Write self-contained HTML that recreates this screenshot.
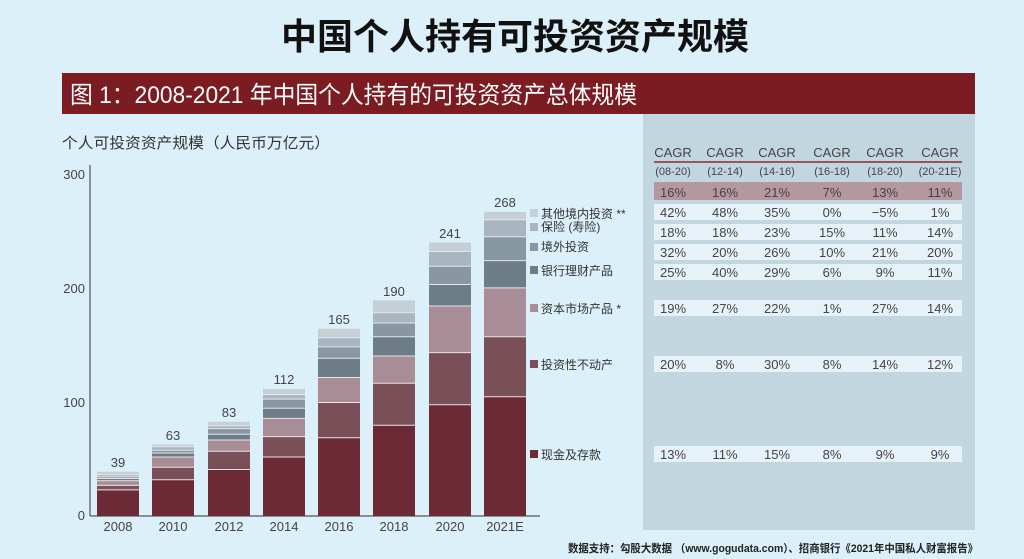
<!DOCTYPE html>
<html><head><meta charset="utf-8"><style>
html,body{margin:0;padding:0;background:#dcf0fa;}
svg{display:block;font-family:"Liberation Sans","Noto Sans CJK SC",sans-serif;}
</style></head><body>
<svg width="1024" height="559" viewBox="0 0 1024 559" xmlns="http://www.w3.org/2000/svg">
<rect width="1024" height="559" fill="#dcf0fa"/>
<text x="515" y="49" text-anchor="middle" font-size="36" font-weight="bold" fill="#111">中国个人持有可投资资产规模</text>
<rect x="62" y="73" width="913" height="41" fill="#7a1c22"/>
<text x="70" y="103" font-size="24" fill="#fff" textLength="567" lengthAdjust="spacingAndGlyphs">图 1：2008-2021 年中国个人持有的可投资资产总体规模</text>
<rect x="643" y="114" width="332" height="416" fill="#c2d6e0"/>
<text x="62" y="148" font-size="15" fill="#333" textLength="268" lengthAdjust="spacingAndGlyphs">个人可投资资产规模（人民币万亿元）</text>
<g font-size="13" fill="#444" text-anchor="end">
<text x="85" y="179">300</text><text x="85" y="293">200</text><text x="85" y="407">100</text><text x="85" y="520">0</text>
</g>
<line x1="90" y1="165" x2="90" y2="516" stroke="#555" stroke-width="1.2"/>
<line x1="90" y1="516" x2="540" y2="516" stroke="#555" stroke-width="1.2"/>
<g id="bars" stroke="none">
<rect x="97" y="471.7" width="42" height="44.3" fill="#c5d0d6"/><rect x="97" y="474.6" width="42" height="41.4" fill="#a8b6bf"/><rect x="97" y="476.8" width="42" height="39.2" fill="#8898a3"/><rect x="97" y="478.5" width="42" height="37.5" fill="#6c7d88"/><rect x="97" y="480.8" width="42" height="35.2" fill="#a88c96"/><rect x="97" y="485.4" width="42" height="30.6" fill="#7a5058"/><rect x="97" y="489.9" width="42" height="26.1" fill="#6b2a36"/>
<rect x="152" y="444.5" width="42" height="71.5" fill="#c5d0d6"/><rect x="152" y="446.8" width="42" height="69.2" fill="#a8b6bf"/><rect x="152" y="450.2" width="42" height="65.8" fill="#8898a3"/><rect x="152" y="453" width="42" height="63" fill="#6c7d88"/><rect x="152" y="457" width="42" height="59" fill="#a88c96"/><rect x="152" y="467.2" width="42" height="48.8" fill="#7a5058"/><rect x="152" y="479.7" width="42" height="36.3" fill="#6b2a36"/>
<rect x="208" y="421.8" width="42" height="94.2" fill="#c5d0d6"/><rect x="208" y="425.8" width="42" height="90.2" fill="#a8b6bf"/><rect x="208" y="428.6" width="42" height="87.4" fill="#8898a3"/><rect x="208" y="434.3" width="42" height="81.7" fill="#6c7d88"/><rect x="208" y="440" width="42" height="76" fill="#a88c96"/><rect x="208" y="451.3" width="42" height="64.7" fill="#7a5058"/><rect x="208" y="469.5" width="42" height="46.5" fill="#6b2a36"/>
<rect x="263" y="388.9" width="42" height="127.1" fill="#c5d0d6"/><rect x="263" y="394.6" width="42" height="121.4" fill="#a8b6bf"/><rect x="263" y="399.1" width="42" height="116.9" fill="#8898a3"/><rect x="263" y="408.2" width="42" height="107.8" fill="#6c7d88"/><rect x="263" y="418.4" width="42" height="97.6" fill="#a88c96"/><rect x="263" y="436.6" width="42" height="79.4" fill="#7a5058"/><rect x="263" y="457" width="42" height="59" fill="#6b2a36"/>
<rect x="318" y="328.7" width="42" height="187.3" fill="#c5d0d6"/><rect x="318" y="337.8" width="42" height="178.2" fill="#a8b6bf"/><rect x="318" y="346.9" width="42" height="169.1" fill="#8898a3"/><rect x="318" y="358.2" width="42" height="157.8" fill="#6c7d88"/><rect x="318" y="377.5" width="42" height="138.5" fill="#a88c96"/><rect x="318" y="402.5" width="42" height="113.5" fill="#7a5058"/><rect x="318" y="437.7" width="42" height="78.3" fill="#6b2a36"/>
<rect x="373" y="300.4" width="42" height="215.6" fill="#c5d0d6"/><rect x="373" y="312.8" width="42" height="203.2" fill="#a8b6bf"/><rect x="373" y="323" width="42" height="193" fill="#8898a3"/><rect x="373" y="336.7" width="42" height="179.3" fill="#6c7d88"/><rect x="373" y="356" width="42" height="160" fill="#a88c96"/><rect x="373" y="383.2" width="42" height="132.8" fill="#7a5058"/><rect x="373" y="425.2" width="42" height="90.8" fill="#6b2a36"/>
<rect x="429" y="242.5" width="42" height="273.5" fill="#c5d0d6"/><rect x="429" y="251.5" width="42" height="264.5" fill="#a8b6bf"/><rect x="429" y="266.3" width="42" height="249.7" fill="#8898a3"/><rect x="429" y="284.5" width="42" height="231.5" fill="#6c7d88"/><rect x="429" y="306" width="42" height="210" fill="#a88c96"/><rect x="429" y="352.6" width="42" height="163.4" fill="#7a5058"/><rect x="429" y="404.8" width="42" height="111.2" fill="#6b2a36"/>
<rect x="484" y="211.8" width="42" height="304.2" fill="#c5d0d6"/><rect x="484" y="219.8" width="42" height="296.2" fill="#a8b6bf"/><rect x="484" y="236.8" width="42" height="279.2" fill="#8898a3"/><rect x="484" y="260.6" width="42" height="255.4" fill="#6c7d88"/><rect x="484" y="287.9" width="42" height="228.1" fill="#a88c96"/><rect x="484" y="336.7" width="42" height="179.3" fill="#7a5058"/><rect x="484" y="396.8" width="42" height="119.2" fill="#6b2a36"/>
</g>
<g stroke="#e8e4ea" stroke-width="1">
<path d="M97 474.6h42M97 476.8h42M97 478.5h42M97 480.8h42M97 485.4h42M97 489.9h42"/>
<path d="M152 446.8h42M152 450.2h42M152 453h42M152 457h42M152 467.2h42M152 479.7h42"/>
<path d="M208 425.8h42M208 428.6h42M208 434.3h42M208 440h42M208 451.3h42M208 469.5h42"/>
<path d="M263 394.6h42M263 399.1h42M263 408.2h42M263 418.4h42M263 436.6h42M263 457h42"/>
<path d="M318 337.8h42M318 346.9h42M318 358.2h42M318 377.5h42M318 402.5h42M318 437.7h42"/>
<path d="M373 312.8h42M373 323h42M373 336.7h42M373 356h42M373 383.2h42M373 425.2h42"/>
<path d="M429 251.5h42M429 266.3h42M429 284.5h42M429 306h42M429 352.6h42M429 404.8h42"/>
<path d="M484 219.8h42M484 236.8h42M484 260.6h42M484 287.9h42M484 336.7h42M484 396.8h42"/>
</g>
<g font-size="13" fill="#444" text-anchor="middle">
<text x="118" y="467">39</text><text x="173" y="440">63</text><text x="229" y="417">83</text><text x="284" y="384">112</text>
<text x="339" y="324">165</text><text x="394" y="296">190</text><text x="450" y="238">241</text><text x="505" y="207">268</text>
<text x="118" y="531">2008</text><text x="173" y="531">2010</text><text x="229" y="531">2012</text><text x="284" y="531">2014</text>
<text x="339" y="531">2016</text><text x="394" y="531">2018</text><text x="450" y="531">2020</text><text x="505" y="531">2021E</text>
</g>
<g font-size="12" fill="#333">
<rect x="530" y="209" width="8" height="8" fill="#c5d0d6"/><text x="541" y="218">其他境内投资 **</text>
<rect x="530" y="223" width="8" height="8" fill="#a8b6bf"/><text x="541" y="231">保险 (寿险)</text>
<rect x="530" y="243" width="8" height="8" fill="#8898a3"/><text x="541" y="251">境外投资</text>
<rect x="530" y="266" width="8" height="8" fill="#6c7d88"/><text x="541" y="275">银行理财产品</text>
<rect x="530" y="304" width="8" height="8" fill="#a88c96"/><text x="541" y="313">资本市场产品 *</text>
<rect x="530" y="360" width="8" height="8" fill="#7a5058"/><text x="541" y="369">投资性不动产</text>
<rect x="530" y="450" width="8" height="8" fill="#6b2a36"/><text x="541" y="459">现金及存款</text>
</g>
<g font-size="13" fill="#444" text-anchor="middle">
<text x="673" y="157">CAGR</text><text x="725" y="157">CAGR</text><text x="777" y="157">CAGR</text><text x="832" y="157">CAGR</text><text x="885" y="157">CAGR</text><text x="940" y="157">CAGR</text>
</g>
<line x1="654" y1="162" x2="962" y2="162" stroke="#8a2a30" stroke-width="1.5"/>
<g font-size="11" fill="#444" text-anchor="middle">
<text x="673" y="175">(08-20)</text><text x="725" y="175">(12-14)</text><text x="777" y="175">(14-16)</text><text x="832" y="175">(16-18)</text><text x="885" y="175">(18-20)</text><text x="940" y="175">(20-21E)</text>
</g>
<rect x="654" y="182" width="308" height="18" fill="#b4979f"/>
<g fill="#e6f2f8">
<rect x="654" y="204" width="308" height="16"/><rect x="654" y="224" width="308" height="16"/><rect x="654" y="244" width="308" height="16"/><rect x="654" y="264" width="308" height="16"/><rect x="654" y="300" width="308" height="16"/><rect x="654" y="356" width="308" height="16"/><rect x="654" y="446" width="308" height="16"/>
</g>
<g font-size="13" fill="#444" text-anchor="middle">
<g transform="translate(0,197)"><text x="673">16%</text><text x="725">16%</text><text x="777">21%</text><text x="832">7%</text><text x="885">13%</text><text x="940">11%</text></g>
<g transform="translate(0,217)"><text x="673">42%</text><text x="725">48%</text><text x="777">35%</text><text x="832">0%</text><text x="885">−5%</text><text x="940">1%</text></g>
<g transform="translate(0,237)"><text x="673">18%</text><text x="725">18%</text><text x="777">23%</text><text x="832">15%</text><text x="885">11%</text><text x="940">14%</text></g>
<g transform="translate(0,257)"><text x="673">32%</text><text x="725">20%</text><text x="777">26%</text><text x="832">10%</text><text x="885">21%</text><text x="940">20%</text></g>
<g transform="translate(0,277)"><text x="673">25%</text><text x="725">40%</text><text x="777">29%</text><text x="832">6%</text><text x="885">9%</text><text x="940">11%</text></g>
<g transform="translate(0,313)"><text x="673">19%</text><text x="725">27%</text><text x="777">22%</text><text x="832">1%</text><text x="885">27%</text><text x="940">14%</text></g>
<g transform="translate(0,369)"><text x="673">20%</text><text x="725">8%</text><text x="777">30%</text><text x="832">8%</text><text x="885">14%</text><text x="940">12%</text></g>
<g transform="translate(0,459)"><text x="673">13%</text><text x="725">11%</text><text x="777">15%</text><text x="832">8%</text><text x="885">9%</text><text x="940">9%</text></g>
</g>
<text x="568" y="552" font-size="11" font-weight="bold" fill="#222" textLength="410" lengthAdjust="spacingAndGlyphs">数据支持：勾股大数据 （www.gogudata.com）、招商银行《2021年中国私人财富报告》</text>
</svg>
</body></html>
